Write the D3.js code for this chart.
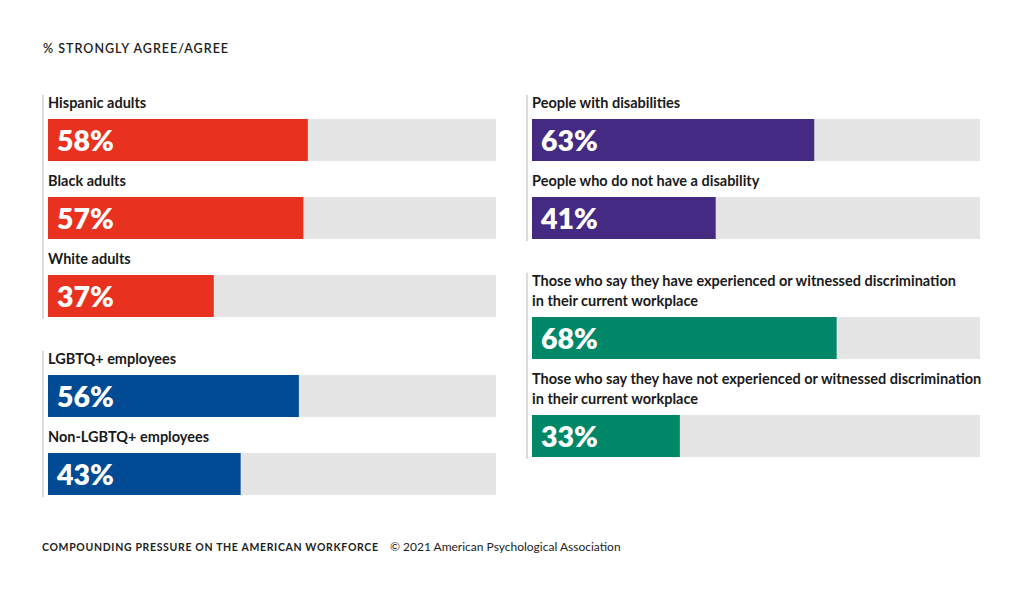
<!DOCTYPE html>
<html><head><meta charset="utf-8">
<script src="https://cdn.jsdelivr.net/npm/d3@7"></script>
<style>
html,body{margin:0;padding:0;background:#fff;}
svg{display:block;}
</style></head>
<body>
<svg id="chart" width="1024" height="593"></svg>
<script>
// ---- data ----
const title = "% STRONGLY AGREE/AGREE";
const footerBold = "COMPOUNDING PRESSURE ON THE AMERICAN WORKFORCE";
const footerReg = "© 2021 American Psychological Association";

const raceLabels = [["Hispanic adults"], ["Black adults"], ["White adults"]];
const raceValues = [58, 57, 37];
const lgbtLabels = [["LGBTQ+ employees"], ["Non-LGBTQ+ employees"]];
const lgbtValues = [56, 43];
const disLabels = [["People with disabilities"], ["People who do not have a disability"]];
const disValues = [63, 41];
const discLabels = [
  ["Those who say they have experienced or witnessed discrimination", "in their current workplace"],
  ["Those who say they have not experienced or witnessed discrimination", "in their current workplace"]
];
const discValues = [68, 33];

const colors = { race: "#e8321f", lgbt: "#004b93", dis: "#452a84", disc: "#008768" };

const columns = [
  [ {labels: raceLabels, values: raceValues, color: colors.race},
    {labels: lgbtLabels, values: lgbtValues, color: colors.lgbt} ],
  [ {labels: disLabels, values: disValues, color: colors.dis},
    {labels: discLabels, values: discValues, color: colors.disc} ]
];

// ---- layout ----
const svg = d3.select("#chart");
const colX = [48, 532];
const trackW = 448;
const x = d3.scaleLinear().domain([0, 100]).range([0, trackW]);
const barH = 42, lineH = 20, labelGap = 22, itemGap = 14.3, groupGap = 21.5, topY = 97;
const labelFont = "Lato, 'Open Sans', sans-serif";

svg.append("text").attr("x", 43).attr("y", 53)
  .attr("font-family", labelFont).attr("font-size", 12.5).attr("font-weight", 600)
  .attr("letter-spacing", 1).attr("fill", "#222").text(title);

columns.forEach((groups, ci) => {
  const gx = colX[ci];
  let cursor = topY;
  groups.forEach(grp => {
    const gStart = cursor;
    const g = svg.append("g");
    let lastBottom = cursor;
    grp.values.forEach((v, i) => {
      const lines = grp.labels[i];
      const t = g.append("text").attr("x", gx).attr("y", cursor + 11)
        .attr("font-family", labelFont).attr("font-size", 14.5).attr("font-weight", 700)
        .attr("fill", "#1a1a1a");
      lines.forEach((ln, li) => {
        t.append("tspan").attr("x", gx).attr("y", cursor + 11 + li * lineH).text(ln);
      });
      const by = Math.round(cursor + labelGap + (lines.length - 1) * lineH);
      g.append("rect").attr("x", gx + x(0)).attr("y", by).attr("width", x(100)).attr("height", barH)
        .attr("fill", "#e5e5e5");
      g.append("rect").attr("x", gx + x(0)).attr("y", by).attr("width", x(v)).attr("height", barH)
        .attr("fill", grp.color);
      g.append("text").attr("x", gx + 9).attr("y", by + 32)
        .attr("font-family", labelFont).attr("font-size", 28.5).attr("font-weight", 800)
        .attr("fill", "#fff").text(v + "%");
      lastBottom = by + barH;
      cursor = by + barH + itemGap;
    });
    g.append("line").attr("x1", gx - 5).attr("x2", gx - 5)
      .attr("y1", gStart - 2).attr("y2", lastBottom + 2)
      .attr("stroke", "#d0d0d0").attr("stroke-width", 1.5);
    cursor += groupGap;
  });
});

svg.append("text").attr("x", 42).attr("y", 551).attr("font-family", labelFont).attr("fill", "#222")
  .attr("font-size", 10.5).attr("font-weight", 700)
  .attr("textLength", 336).attr("lengthAdjust", "spacing").text(footerBold);
svg.append("text").attr("x", 390).attr("y", 551).attr("font-family", labelFont).attr("fill", "#222")
  .attr("font-size", 12).attr("font-weight", 400).text(footerReg);
</script>
</body></html>
